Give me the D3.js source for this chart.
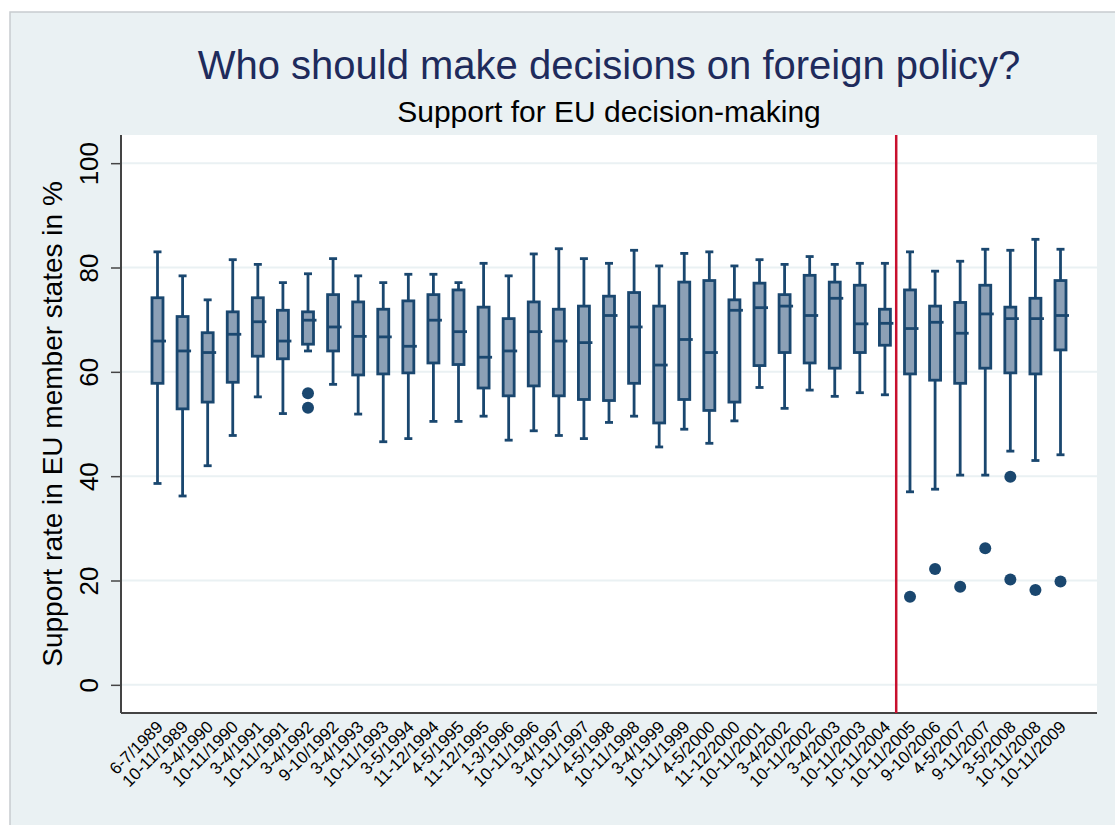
<!DOCTYPE html>
<html>
<head>
<meta charset="utf-8">
<script src="https://cdn.jsdelivr.net/npm/d3@7"></script>
<style>
  html, body { margin: 0; padding: 0; background: #ffffff; }
  svg { display: block; font-family: "Liberation Sans", Arial, sans-serif; }
</style>
</head>
<body>
<svg id="chart" width="1115" height="825"></svg>
<script>
// Survey waves (Eurobarometer fieldwork periods)
const waves = [
  "6-7/1989", "10-11/1989", "3-4/1990", "10-11/1990", "3-4/1991", "10-11/1991",
  "3-4/1992", "9-10/1992", "3-4/1993", "10-11/1993", "3-5/1994", "11-12/1994",
  "4-5/1995", "11-12/1995", "1-3/1996", "10-11/1996", "3-4/1997", "10-11/1997",
  "4-5/1998", "10-11/1998", "3-4/1999", "10-11/1999", "4-5/2000", "11-12/2000",
  "10-11/2001", "3-4/2002", "10-11/2002", "3-4/2003", "10-11/2003", "10-11/2004",
  "10-11/2005", "9-10/2006", "4-5/2007", "9-11/2007", "3-5/2008", "10-11/2008",
  "10-11/2009"
];

// Box plot statistics per wave (support in %, across member states)
const whiskerHigh = [
  83.0, 78.4, 73.8, 81.5, 80.6, 77.1, 78.8, 81.7, 78.4, 77.1, 78.7, 78.7,
  77.1, 80.8, 78.4, 82.6, 83.6, 81.7, 80.8, 83.3, 80.3, 82.7, 83.0, 80.3,
  81.5, 80.6, 82.1, 80.6, 80.8, 80.8, 83.0, 79.3, 81.2, 83.5, 83.3, 85.4, 83.5
];
const quartile3 = [
  74.2, 70.6, 67.5, 71.5, 74.2, 71.8, 71.5, 74.8, 73.4, 72.0, 73.6, 74.8,
  75.7, 72.4, 70.2, 73.4, 72.0, 72.6, 74.5, 75.2, 72.6, 77.2, 77.5, 73.8,
  77.0, 74.8, 78.5, 77.2, 76.6, 72.0, 75.7, 72.6, 73.3, 76.6, 72.4, 74.1, 77.5
];
const medians = [
  65.9, 64.0, 63.7, 67.2, 69.6, 65.9, 69.9, 68.6, 66.8, 66.7, 64.9, 69.9,
  67.7, 62.8, 64.0, 67.7, 65.9, 65.6, 70.8, 68.6, 61.3, 66.2, 63.7, 71.8,
  72.3, 72.6, 70.8, 74.1, 69.2, 69.3, 68.3, 69.5, 67.4, 71.1, 70.2, 70.2, 70.8
];
const quartile1 = [
  57.8, 52.9, 54.2, 58.0, 63.0, 62.5, 65.3, 64.0, 59.4, 59.6, 59.8, 61.7,
  61.4, 56.9, 55.4, 57.3, 55.4, 54.7, 54.5, 57.8, 50.2, 54.7, 52.6, 54.2,
  61.2, 63.7, 61.7, 60.7, 63.7, 65.1, 59.6, 58.4, 57.8, 60.7, 59.8, 59.6, 64.2
];
const whiskerLow = [
  38.6, 36.2, 42.0, 47.8, 55.2, 52.0, 64.0, 57.6, 51.9, 46.6, 47.2, 50.5,
  50.5, 51.5, 46.9, 48.7, 47.8, 47.2, 50.3, 51.5, 45.6, 49.0, 46.3, 50.6,
  57.0, 53.0, 56.5, 55.3, 56.0, 55.6, 37.0, 37.5, 40.2, 40.2, 44.8, 43.0, 44.1
];

// Outlying member states: wave and support value
const outlierWave  = ["3-4/1992", "3-4/1992", "10-11/2005", "9-10/2006", "4-5/2007",
                      "9-11/2007", "3-5/2008", "3-5/2008", "10-11/2008", "10-11/2009"];
const outlierValue = [55.9, 53.1, 16.9, 22.2, 18.8, 26.2, 39.9, 20.2, 18.2, 19.8];

const yTicks = [0, 20, 40, 60, 80, 100];

// Reference line drawn between these two waves
const markerBetween = ["10-11/2004", "10-11/2005"];

const W = 1115, H = 825;
const plot = { left: 121, right: 1097, top: 135, bottom: 713 };

const navy = "#1a476f";
const boxFill = "#8ca0b6";
const bg = "#eaf1f3";

const svg = d3.select("#chart");

// Graph background with thin frame on top and left
svg.append("rect").attr("x", 10).attr("y", 12).attr("width", W - 10).attr("height", H - 12)
  .attr("fill", bg);
svg.append("path").attr("d", `M10,${H} V12 H${W}`).attr("fill", "none")
  .attr("stroke", "#c8cccf").attr("stroke-width", 1.5);

// Plot region
svg.append("rect").attr("x", plot.left).attr("y", plot.top)
  .attr("width", plot.right - plot.left).attr("height", plot.bottom - plot.top)
  .attr("fill", "#ffffff");

const x = d3.scalePoint().domain(waves).range([plot.left, plot.right]).padding(1.455);
const y = d3.scaleLinear().domain([-5.4, 105.4]).range([plot.bottom, plot.top]);

// Gridlines
svg.append("g").selectAll("line").data(yTicks).join("line")
  .attr("x1", plot.left).attr("x2", plot.right)
  .attr("y1", d => y(d)).attr("y2", d => y(d))
  .attr("stroke", bg).attr("stroke-width", 2);

// Y axis
const yAxis = svg.append("g").attr("transform", `translate(${plot.left},0)`)
  .call(d3.axisLeft(y).tickValues(yTicks).tickSize(10).tickPadding(0).tickFormat(d3.format("d")));
yAxis.select(".domain").attr("stroke", "#444").attr("stroke-width", 2)
  .attr("d", `M0,${plot.top}V${plot.bottom}`);
yAxis.selectAll(".tick line").attr("stroke", "#444").attr("stroke-width", 1.5);
yAxis.selectAll(".tick text")
  .attr("x", null).attr("dy", null)
  .attr("transform", "translate(-23,0) rotate(-90)")
  .attr("text-anchor", "middle")
  .attr("font-size", 26).attr("fill", "#000")
  .attr("font-family", "Liberation Sans, Arial, sans-serif");

// X axis
const xAxis = svg.append("g").attr("transform", `translate(0,${plot.bottom})`)
  .call(d3.axisBottom(x).tickSize(0).tickPadding(0));
xAxis.select(".domain").attr("stroke", "#444").attr("stroke-width", 2)
  .attr("d", `M${plot.left},0H${plot.right}`);
xAxis.selectAll(".tick text")
  .attr("y", null).attr("dy", null)
  .attr("transform", "translate(6,15) rotate(-45)")
  .attr("text-anchor", "end")
  .attr("font-size", 17).attr("fill", "#000")
  .attr("font-family", "Liberation Sans, Arial, sans-serif");

// Box plots
const boxW = 13, capW = 8, sw = 2.8;
const stats = waves.map((w, i) => ({
  w, hi: whiskerHigh[i], q3: quartile3[i], med: medians[i], q1: quartile1[i], lo: whiskerLow[i]
}));
const boxes = svg.append("g").selectAll("g").data(stats).join("g")
  .attr("transform", d => `translate(${x(d.w)},0)`);

boxes.append("line").attr("x1", 0).attr("x2", 0)
  .attr("y1", d => y(d.hi)).attr("y2", d => y(d.q3))
  .attr("stroke", navy).attr("stroke-width", sw);
boxes.append("line").attr("x1", 0).attr("x2", 0)
  .attr("y1", d => y(d.q1)).attr("y2", d => y(d.lo))
  .attr("stroke", navy).attr("stroke-width", sw);
boxes.append("line").attr("x1", -capW / 2).attr("x2", capW / 2)
  .attr("y1", d => y(d.hi)).attr("y2", d => y(d.hi))
  .attr("stroke", navy).attr("stroke-width", sw);
boxes.append("line").attr("x1", -capW / 2).attr("x2", capW / 2)
  .attr("y1", d => y(d.lo)).attr("y2", d => y(d.lo))
  .attr("stroke", navy).attr("stroke-width", sw);
boxes.append("rect").attr("x", -boxW / 2 + 1).attr("width", boxW - 2)
  .attr("y", d => y(d.q3)).attr("height", d => y(d.q1) - y(d.q3))
  .attr("fill", boxFill).attr("stroke", navy).attr("stroke-width", sw);
boxes.append("line").attr("x1", -boxW / 2 + 1).attr("x2", boxW / 2 + 2)
  .attr("y1", d => y(d.med)).attr("y2", d => y(d.med))
  .attr("stroke", navy).attr("stroke-width", sw);

// Outliers
svg.append("g").selectAll("circle").data(outlierWave.map((w, i) => ({ w, v: outlierValue[i] })))
  .join("circle")
  .attr("cx", d => x(d.w)).attr("cy", d => y(d.v)).attr("r", 6)
  .attr("fill", navy);

// Vertical reference line
const xMark = x(markerBetween[0]) + (x(markerBetween[1]) - x(markerBetween[0])) * 0.45;
svg.append("line").attr("x1", xMark).attr("x2", xMark)
  .attr("y1", plot.top).attr("y2", plot.bottom)
  .attr("stroke", "#c8102e").attr("stroke-width", 2.5);

// Titles
const cx = (plot.left + plot.right) / 2;
svg.append("text").attr("x", cx).attr("y", 79).attr("text-anchor", "middle")
  .attr("font-size", 40).attr("fill", "#1e2b5c")
  .text("Who should make decisions on foreign policy?");
svg.append("text").attr("x", cx).attr("y", 122).attr("text-anchor", "middle")
  .attr("font-size", 30).attr("fill", "#000")
  .text("Support for EU decision-making");

// Y axis title
svg.append("text")
  .attr("transform", `translate(62,${(plot.top + plot.bottom) / 2}) rotate(-90)`)
  .attr("text-anchor", "middle").attr("font-size", 28).attr("fill", "#000")
  .text("Support rate in EU member states in %");
</script>
</body>
</html>
